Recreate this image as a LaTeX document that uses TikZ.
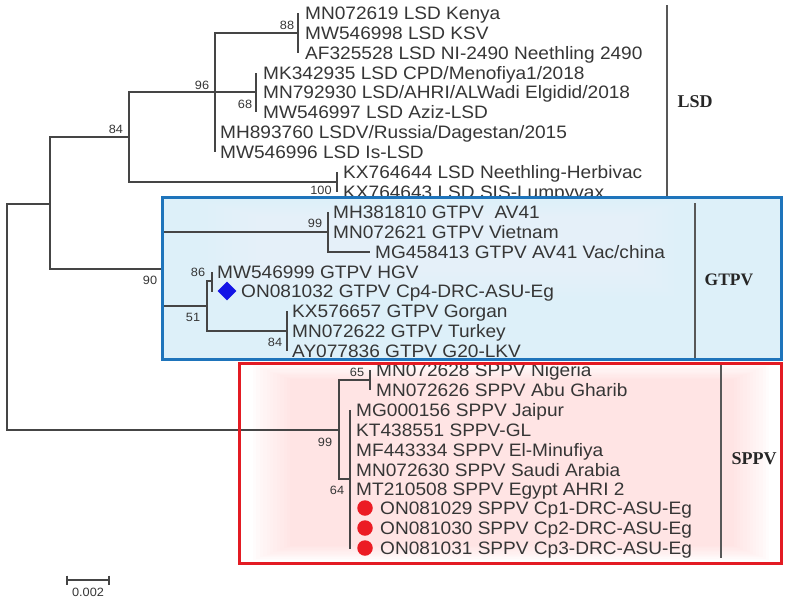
\documentclass[tikz,border=0pt]{standalone}
\usepackage{fontspec}
\usetikzlibrary{shapes.geometric}
\newfontfamily\labfont{Liberation Sans}[FakeStretch=1.06]
\newfontfamily\grpfont{Liberation Serif}
\definecolor{txt}{HTML}{363636}
\definecolor{lc}{HTML}{454545}
\definecolor{bluebd}{HTML}{1E74BB}
\definecolor{redbd}{HTML}{E31B23}
\definecolor{gfill}{HTML}{DDF0F9}
\definecolor{pinkglow}{HTML}{FFBEBE}
\definecolor{dia}{HTML}{1414E6}
\definecolor{dot}{HTML}{EC1C24}
\begin{document}
\begin{tikzpicture}[x=1pt,y=-1pt,
  br/.style={draw=lc, line width=1.2pt},
  leaf/.style={anchor=west, inner sep=0pt, text height=12.9pt, text depth=0pt, text=txt, font=\labfont\fontsize{18}{18}\selectfont},
  bs/.style={inner sep=0pt, text=txt, font=\labfont\fontsize{12}{12}\selectfont},
  grp/.style={inner sep=0pt, text=black!85, font=\grpfont\bfseries\fontsize{18}{18}\selectfont},
  bar/.style={draw=lc!90, line width=1.4pt},
  diabox/.style={diamond, fill=dia, inner sep=0pt, minimum width=19pt, minimum height=19pt},
  redot/.style={circle, fill=dot, inner sep=0pt, minimum size=15.5pt}]
\useasboundingbox (0,0) rectangle (786,603);
\fill[white] (0,0) rectangle (786,603);

% SPPV box background with soft pink glow
\fill[white] (239,363) rectangle (781,563);
\foreach \i in {0,...,11} {
  \fill[pinkglow, opacity=0.035] ({239+14+3.4*\i},{363+2+1.3*\i}) rectangle ({781-12-3.2*\i},{563-3-1.3*\i});
}

% internal nodes
\coordinate (root) at (7,317);
\coordinate (nA) at (50,204);
\coordinate (n84) at (129,137);
\coordinate (n96) at (215,92);
\coordinate (n88) at (298,33);
\coordinate (n68) at (256,92);
\coordinate (n100) at (337,182);
\coordinate (nG) at (162,269);
\coordinate (n99) at (328,232);
\coordinate (n51) at (207,306);
\coordinate (n86) at (212,281);
\coordinate (n84g) at (287,331);
\coordinate (nS) at (339,430);
\coordinate (n65) at (370,380);
\coordinate (n64) at (350,479);

% ---- LSD ----
\node[leaf] (l1) at (305,13) {MN072619 LSD Kenya};
\node[leaf] (l2) at (305,33) {MW546998 LSD KSV};
\node[leaf] (l3) at (305,53) {AF325528 LSD NI-2490 Neethling 2490};
\node[leaf] (l4) at (263,73) {MK342935 LSD CPD/Menofiya1/2018};
\node[leaf] (l5) at (263,92) {MN792930 LSD/AHRI/ALWadi Elgidid/2018};
\node[leaf] (l6) at (263,112) {MW546997 LSD Aziz-LSD};
\node[leaf] (l7) at (220,132) {MH893760 LSDV/Russia/Dagestan/2015};
\node[leaf] (l8) at (220,152) {MW546996 LSD Is-LSD};
\node[leaf] (l9) at (343,172) {KX764644 LSD Neethling-Herbivac};
\node[leaf] (l10) at (343,192) {KX764643 LSD SIS-Lumpyvax};

\draw[br] (root) |- (nA);
\draw[br] (root) |- (nS);
\draw[br] (nA) |- (n84);
\draw[br] (nA) |- (nG);
\draw[br] (n84) |- (n96);
\draw[br] (n84) |- (n100);
\draw[br] (n96) |- (n88);
\draw[br] (n96) |- (n68);
\draw[br] (n96) |- ([xshift=-5pt]l7.west);
\draw[br] (n96) |- ([xshift=-5pt]l8.west);
\draw[br] (n88) |- ([xshift=-7pt]l1.west);
\draw[br] (n88) |- ([xshift=-7pt]l2.west);
\draw[br] (n88) |- ([xshift=-7pt]l3.west);
\draw[br] (n68) |- ([xshift=-7pt]l4.west);
\draw[br] (n68) |- ([xshift=-7pt]l5.west);
\draw[br] (n68) |- ([xshift=-7pt]l6.west);
\draw[br] (n100) |- ([xshift=-6pt]l9.west);
\draw[br] (n100) |- ([xshift=-6pt]l10.west);

\node[bs] (b88) at (287,25) {88};
\node[bs] (b96) at (202,85) {96};
\node[bs] (b68) at (245,104) {68};
\node[bs] (b84) at (116,129) {84};
\node[bs] (b100) at (321,190) {100};
\node[bs] (b90) at (150,280) {90};

\coordinate (lsdT) at (667,5);
\coordinate (lsdB) at (667,197);
\draw[bar] (lsdT) -- (lsdB);
\node[grp] (lsd) at (695,102) {LSD};

% ---- GTPV box ----
\fill[gfill] (162,197) rectangle (781,359);
\foreach \i in {0,...,7} {
  \fill[white, opacity=0.04] ({200+8*\i},{202+2*\i}) rectangle ({680-6*\i},{300-4*\i});
}

\node[leaf] (g1) at (333,212) {MH381810 GTPV\hspace{0.6em}AV41};
\node[leaf] (g2) at (333,232) {MN072621 GTPV Vietnam};
\node[leaf] (g3) at (375,252) {MG458413 GTPV AV41 Vac/china};
\node[leaf] (g4) at (217,272) {MW546999 GTPV HGV};
\node[diabox] (d5) at (227,291) {};
\node[leaf] (g5) at (241,291) {ON081032 GTPV Cp4-DRC-ASU-Eg};
\node[leaf] (g6) at (292,311) {KX576657 GTPV Gorgan};
\node[leaf] (g7) at (292,331) {MN072622 GTPV Turkey};
\node[leaf] (g8) at (292,351) {AY077836 GTPV G20-LKV};

\draw[br] (nG) |- (n99);
\draw[br] (nG) |- (n51);
\draw[br] (n99) |- ([xshift=-5pt]g1.west);
\draw[br] (n99) |- ([xshift=-5pt]g2.west);
\draw[br] (n99) |- ([xshift=-5pt]g3.west);
\draw[br] (n51) |- (n86);
\draw[br] (n51) |- (n84g);
\draw[br] (n86) |- ([xshift=-5pt]g4.west);
\draw[br] (n86) |- ([xshift=-5pt]d5.west);
\draw[br] (n84g) |- ([xshift=-5pt]g6.west);
\draw[br] (n84g) |- ([xshift=-5pt]g7.west);
\draw[br] (n84g) |- ([xshift=-5pt]g8.west);

\node[bs] (b99g) at (315,223) {99};
\node[bs] (b86) at (198,272) {86};
\node[bs] (b51) at (193,317) {51};
\node[bs] (b84g) at (275,342) {84};

\coordinate (gtT) at (695,203);
\coordinate (gtB) at (695,359);
\draw[bar] (gtT) -- (gtB);
\node[grp, font=\grpfont\bfseries\fontsize{17.5}{18}\selectfont] (gtpv) at (729,280) {GTPV};

% ---- SPPV ----
\node[leaf] (s1) at (376,370) {MN072628 SPPV Nigeria};
\node[leaf] (s2) at (376,390) {MN072626 SPPV Abu Gharib};
\node[leaf] (s3) at (356,410) {MG000156 SPPV Jaipur};
\node[leaf] (s4) at (356,430) {KT438551 SPPV-GL};
\node[leaf] (s5) at (356,450) {MF443334 SPPV El-Minufiya};
\node[leaf] (s6) at (356,470) {MN072630 SPPV Saudi Arabia};
\node[leaf] (s7) at (356,489) {MT210508 SPPV Egypt AHRI 2};
\node[redot] (c8) at (365,508) {};
\node[redot] (c9) at (365,528) {};
\node[redot] (c10) at (365,548) {};
\node[leaf] (s8) at (380,508) {ON081029 SPPV Cp1-DRC-ASU-Eg};
\node[leaf] (s9) at (380,528) {ON081030 SPPV Cp2-DRC-ASU-Eg};
\node[leaf] (s10) at (380,548) {ON081031 SPPV Cp3-DRC-ASU-Eg};

\draw[br] (nS) |- (n65);
\draw[br] (nS) |- (n64);
\draw[br] (n65) |- ([xshift=-6pt]s1.west);
\draw[br] (n65) |- ([xshift=-6pt]s2.west);
\draw[br] (n64) |- ([xshift=-6pt]s3.west);
\draw[br] (n64) |- ([xshift=-6pt]s4.west);
\draw[br] (n64) |- ([xshift=-6pt]s5.west);
\draw[br] (n64) |- ([xshift=-6pt]s6.west);
\draw[br] (n64) |- ([xshift=-6pt]s7.west);
\draw[br] (n64) |- ([xshift=-7.75pt]c8.west);
\draw[br] (n64) |- ([xshift=-7.75pt]c9.west);
\draw[br] (n64) |- ([xshift=-7.75pt]c10.west);

\node[bs] (b65) at (357,372) {65};
\node[bs] (b99s) at (325,442) {99};
\node[bs] (b64) at (337,490) {64};

\coordinate (spT) at (721,365);
\coordinate (spB) at (721,558);
\draw[bar] (spT) -- (spB);
\node[grp] (sppv) at (754,459) {SPPV};

% box borders
\draw[draw=bluebd, line width=3pt] (162,197) rectangle (781,359);
\draw[draw=redbd, line width=3pt] (239,363) rectangle (781,563);

% scale bar
\coordinate (sbL) at (67,580);
\coordinate (sbR) at (109,580);
\draw[br] (sbL) -- (sbR);
\draw[br] ([yshift=4.5pt]sbL) -- ([yshift=-4.5pt]sbL);
\draw[br] ([yshift=4.5pt]sbR) -- ([yshift=-4.5pt]sbR);
\node[bs] (sbl) at (88,592) {0.002};
\end{tikzpicture}
\end{document}
